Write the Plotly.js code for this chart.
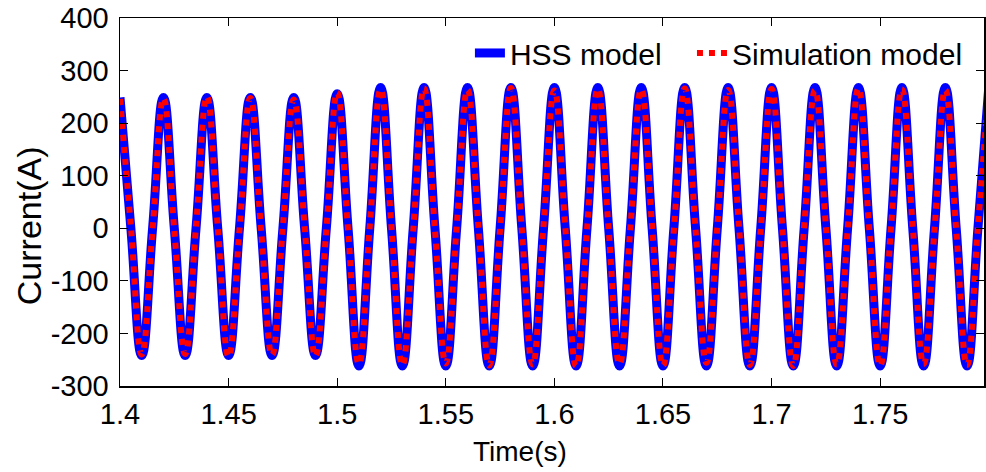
<!DOCTYPE html>
<html>
<head>
<meta charset="utf-8">
<script src="https://cdn.plot.ly/plotly-3.0.1.min.js"></script>
<style>html,body{margin:0;padding:0;background:#fff;}#chart{width:986px;height:472px;}</style>
</head>
<body>
<div id="chart"></div>
<script>
// Time samples (s): peaks, zero crossings and troughs of each 50 Hz cycle
var time = [1.400,1.405,1.410,1.415,1.420,1.425,1.430,1.435,1.440,1.445,
            1.450,1.455,1.460,1.465,1.470,1.475,1.480,1.485,1.490,1.495,
            1.500,1.505,1.510,1.515,1.520,1.525,1.530,1.535,1.540,1.545,
            1.550,1.555,1.560,1.565,1.570,1.575,1.580,1.585,1.590,1.595,
            1.600,1.605,1.610,1.615,1.620,1.625,1.630,1.635,1.640,1.645,
            1.650,1.655,1.660,1.665,1.670,1.675,1.680,1.685,1.690,1.695,
            1.700,1.705,1.710,1.715,1.720,1.725,1.730,1.735,1.740,1.745,
            1.750,1.755,1.760,1.765,1.770,1.775,1.780,1.785,1.790,1.795,
            1.800];

// HSS model current (A)
var hssCurrent = [249,0,-242,0, 249,0,-242,0, 249,0,-242,0, 249,0,-242,0, 249,0,-242,0,
                  256,0,-262,0, 268,0,-262,0, 268,0,-262,0, 268,0,-262,0, 268,0,-262,0,
                  268,0,-262,0, 268,0,-262,0, 268,0,-262,0, 268,0,-262,0, 268,0,-262,0,
                  268,0,-262,0, 268,0,-262,0, 268,0,-262,0, 268,0,-262,0, 268,0,-262,0,
                  268];

// Simulation model current (A)
var simCurrent = [246,3,-240,-2, 247,-4,-239,5, 250,2,-244,-3, 248,-5,-241,4, 245,3,-243,-2,
                  258,-3,-258,4, 264,2,-260,-4, 266,-3,-257,3, 263,4,-261,-2, 267,-2,-259,5,
                  262,3,-262,-3, 265,-4,-258,2, 264,2,-261,-4, 266,-3,-256,3, 263,4,-260,-2,
                  265,-2,-262,4, 262,3,-259,-3, 266,-4,-261,2, 264,2,-258,-3, 263,-3,-260,4,
                  265];

var seriesNames = ['HSS model', 'Simulation model'];
var xTickVals = [1.4,1.45,1.5,1.55,1.6,1.65,1.7,1.75];
var xTickText = ['1.4','1.45','1.5','1.55','1.6','1.65','1.7','1.75'];
var yTickVals = [-300,-200,-100,0,100,200,300,400];
var yTickText = ['-300','-200','-100','0','100','200','300','400'];
var xTitle = 'Time(s)';
var yTitle = 'Current(A)';

var FONT = 'Liberation Sans, Arial, sans-serif';

var traces = [
  {x: time, y: hssCurrent, name: seriesNames[0], type: 'scatter', mode: 'lines', legend: 'legend',
   line: {color: 'rgb(0,0,255)', width: 9, shape: 'spline', smoothing: 1.3}},
  {x: time, y: simCurrent, name: seriesNames[1], type: 'scatter', mode: 'lines', legend: 'legend2',
   line: {color: 'rgb(255,0,0)', width: 6, dash: 'dot', shape: 'spline', smoothing: 1.3}}
];

var axisCommon = {
  showline: true, linecolor: '#000', linewidth: 1.5, mirror: 'allticks',
  ticks: 'inside', ticklen: 8, tickcolor: '#000', tickwidth: 1,
  showgrid: false, zeroline: false,
  tickfont: {family: FONT, size: 29, color: '#000'}
};

var legendCommon = {
  orientation: 'h', xanchor: 'left', y: 0.905, yanchor: 'middle',
  bgcolor: 'rgba(0,0,0,0)', borderwidth: 0,
  font: {family: FONT, size: 30, color: '#000'}, itemwidth: 30
};

var layout = {
  width: 986, height: 472,
  margin: {l: 120, r: 2, t: 18, b: 86},
  paper_bgcolor: '#fff', plot_bgcolor: '#fff',
  showlegend: true,
  legend: Object.assign({}, legendCommon, {x: 0.405}),
  legend2: Object.assign({}, legendCommon, {x: 0.662}),
  xaxis: Object.assign({}, axisCommon, {
    range: [1.4, 1.7978], tickmode: 'array', tickvals: xTickVals, ticktext: xTickText,
    ticklabelstandoff: 2
  }),
  yaxis: Object.assign({}, axisCommon, {
    range: [-300, 400], tickmode: 'array', tickvals: yTickVals, ticktext: yTickText,
    ticklabelstandoff: 4
  }),
  annotations: [
    {text: xTitle, xref: 'paper', yref: 'paper', x: 0.463, y: -0.179, xanchor: 'center', yanchor: 'middle',
     showarrow: false, font: {family: FONT, size: 28, color: '#000'}},
    {text: yTitle, xref: 'paper', yref: 'paper', x: -0.105, y: 0.435, xanchor: 'center', yanchor: 'middle',
     textangle: -90, showarrow: false, font: {family: FONT, size: 34, color: '#000'}}
  ]
};

Plotly.newPlot('chart', traces, layout, {displayModeBar: false, staticPlot: true});
</script>
</body>
</html>
